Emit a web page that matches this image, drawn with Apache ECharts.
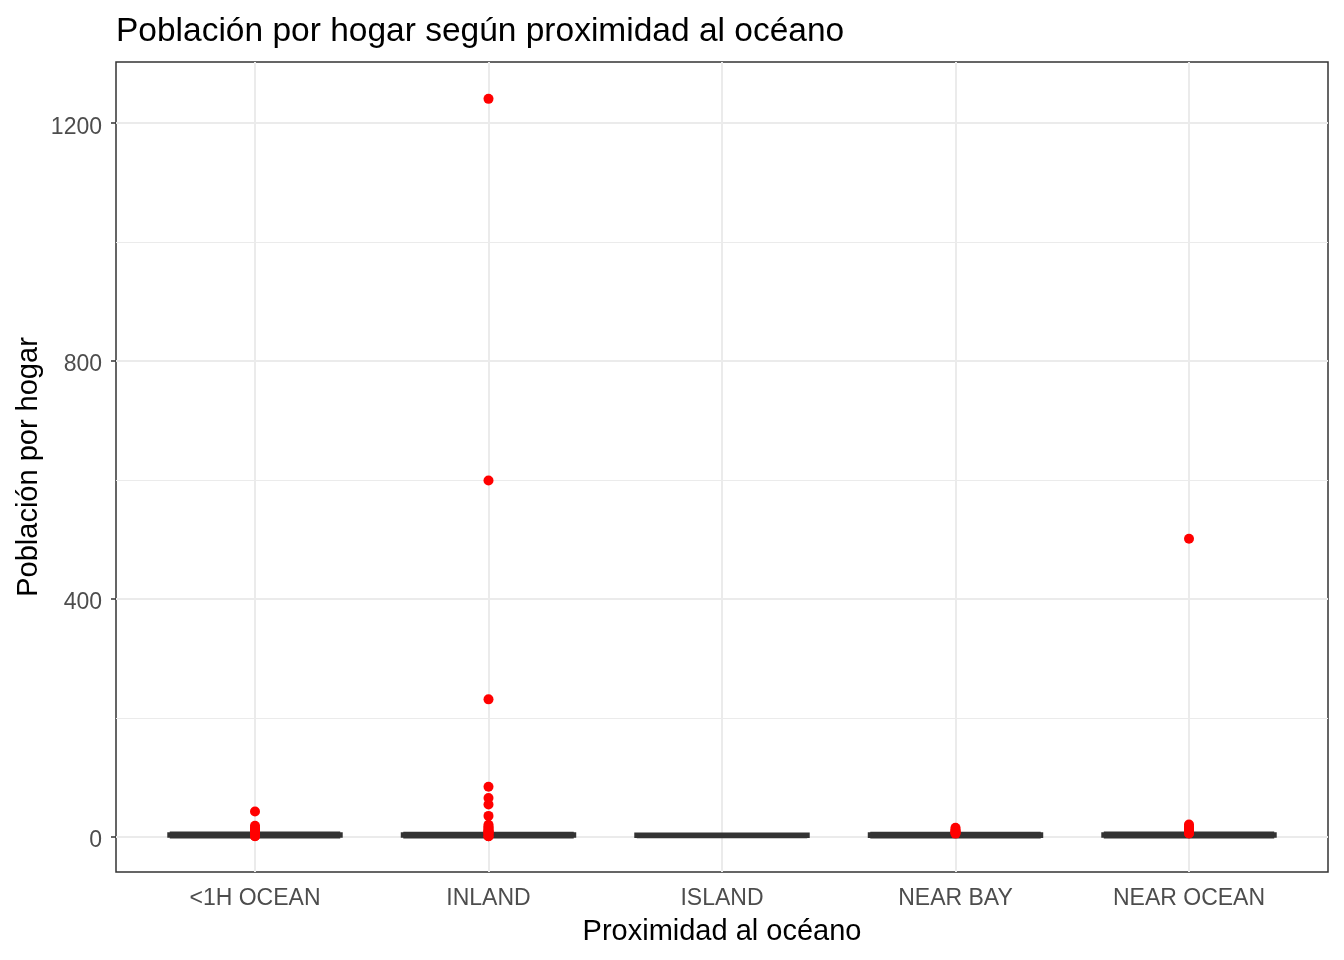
<!DOCTYPE html>
<html>
<head>
<meta charset="utf-8">
<title>Población por hogar</title>
<script src="https://cdn.jsdelivr.net/npm/echarts@6/dist/echarts.min.js"></script>
<style>
  html, body { margin: 0; padding: 0; background: #ffffff; }
  #chart { width: 1344px; height: 960px; }
</style>
</head>
<body>
<div id="chart"></div>
<script>
// Categories on the x axis
const categories = ['<1H OCEAN', 'INLAND', 'ISLAND', 'NEAR BAY', 'NEAR OCEAN'];

// Box stats per category: [lower whisker, Q1, median, Q3, upper whisker]
const boxOcean1h = [1.2, 2.45, 2.82, 3.28, 4.5];
const boxInland = [1.3, 2.5, 2.82, 3.22, 4.3];
const boxIsland = [1.7, 2.1, 2.4, 2.65, 3.0];
const boxNearBay = [1.2, 2.2, 2.6, 3.05, 4.3];
const boxNearOcean = [1.2, 2.4, 2.8, 3.25, 4.5];

// Outliers per category
const outOcean1h = [0.75, 1.0, 5.5, 6.5, 8, 9.5, 11, 13, 15.5, 18.5, 42.5];
const outInland = [0.69, 0.75, 1.0, 5.5, 6, 7, 8, 9.5, 11, 13, 15, 17, 20, 35, 54, 65, 84, 231, 599, 1241];
const outIsland = [];
const outNearBay = [5.2, 6, 7, 8.5, 10, 12, 15];
const outNearOcean = [5.3, 6, 7, 8.5, 10, 12, 14, 17, 20.5, 501];

// Tick values on the y axis (major) and the minor grid values
const majorTicks = [0, 400, 800, 1200];
const minorTicks = [200, 600, 1000];

function generateChart() {
    const boxData = [boxOcean1h, boxInland, boxIsland, boxNearBay, boxNearOcean];
    const outLists = [outOcean1h, outInland, outIsland, outNearBay, outNearOcean];

    // y range with ggplot-like 5% padding
    const yMin = -59.4;
    const yMax = 1303;

    // flatten outliers into [category, value] pairs
    const outlierData = [];
    outLists.forEach((list, i) => {
        list.forEach(v => outlierData.push([categories[i], v]));
    });

    // horizontal grid lines (full panel) and vertical ones (at category centres)
    const hLines = [];
    majorTicks.forEach(v => hLines.push({ yAxis: v, lineStyle: { width: 2 } }));
    minorTicks.forEach(v => hLines.push({ yAxis: v, lineStyle: { width: 1.2 } }));
    const vLines = categories.map(c => ({ xAxis: c, lineStyle: { width: 2 } }));

    const gridMark = data => ({
        silent: true,
        z: 1,
        symbol: 'none',
        label: { show: false },
        lineStyle: { color: '#EBEBEB', type: 'solid' },
        data: data
    });

    const chart = echarts.init(document.getElementById('chart'), null, { renderer: 'canvas' });

    const option = {
        animation: false,
        backgroundColor: '#ffffff',
        textStyle: { fontFamily: 'Liberation Sans, Arial, sans-serif' },
        title: {
            text: 'Población por hogar según proximidad al océano',
            left: 111,
            top: 10,
            textStyle: { fontSize: 33.5, fontWeight: 'normal', color: '#000000' }
        },
        grid: [
            // full panel: border, y axis, horizontal grid
            { left: 116, right: 16, top: 62, bottom: 88, show: true, borderColor: '#333333', borderWidth: 1.5, backgroundColor: '#ffffff' },
            // inner band for the discrete axis (ggplot adds 0.6 of a band at each side)
            { left: 138.25, right: 38.25, top: 62, bottom: 88, show: false }
        ],
        xAxis: [
            { type: 'value', gridIndex: 0, min: 0, max: 1, show: false },
            {
                type: 'category',
                gridIndex: 1,
                data: categories,
                name: 'Proximidad al océano',
                nameLocation: 'middle',
                nameGap: 45,
                nameTextStyle: { fontSize: 29, color: '#000000' },
                axisLine: { show: false },
                axisTick: { show: true, alignWithLabel: true, length: 5, lineStyle: { color: '#333333', width: 1.5 } },
                axisLabel: { fontSize: 23, color: '#4D4D4D', margin: 15 },
                splitLine: { show: false }
            }
        ],
        yAxis: [
            {
                type: 'value',
                gridIndex: 0,
                min: yMin,
                max: yMax,
                name: 'Población por hogar',
                nameLocation: 'middle',
                nameRotate: 90,
                nameGap: 73,
                nameMoveOverlap: false,
                nameTextStyle: { fontSize: 29, color: '#000000' },
                axisLine: { show: false },
                axisTick: { show: true, length: 5, customValues: majorTicks, lineStyle: { color: '#333333', width: 1.5 } },
                axisLabel: {
                    fontSize: 23, color: '#4D4D4D', margin: 14,
                    verticalAlign: 'top', lineHeight: 8,
                    customValues: majorTicks, formatter: v => String(v)
                },
                splitLine: { show: false }
            },
            { type: 'value', gridIndex: 1, min: yMin, max: yMax, show: false }
        ],
        series: [
            {
                // carries only the horizontal grid lines
                type: 'scatter', xAxisIndex: 0, yAxisIndex: 0, data: [], z: 1, silent: true,
                markLine: gridMark(hLines)
            },
            {
                // carries only the vertical grid lines
                type: 'scatter', xAxisIndex: 1, yAxisIndex: 1, data: [], z: 1, silent: true,
                markLine: gridMark(vLines)
            },
            {
                name: 'Caja',
                type: 'boxplot',
                xAxisIndex: 1,
                yAxisIndex: 1,
                data: boxData,
                boxWidth: ['73%', '73%'],
                itemStyle: { color: '#ffffff', borderColor: '#333333', borderWidth: 5 },
                z: 2
            },
            {
                name: 'Atípicos',
                type: 'scatter',
                xAxisIndex: 1,
                yAxisIndex: 1,
                data: outlierData,
                symbol: 'circle',
                symbolSize: 10,
                itemStyle: { color: '#FF0000', opacity: 1 },
                z: 3
            }
        ]
    };

    chart.setOption(option);
}

generateChart();
</script>
</body>
</html>
